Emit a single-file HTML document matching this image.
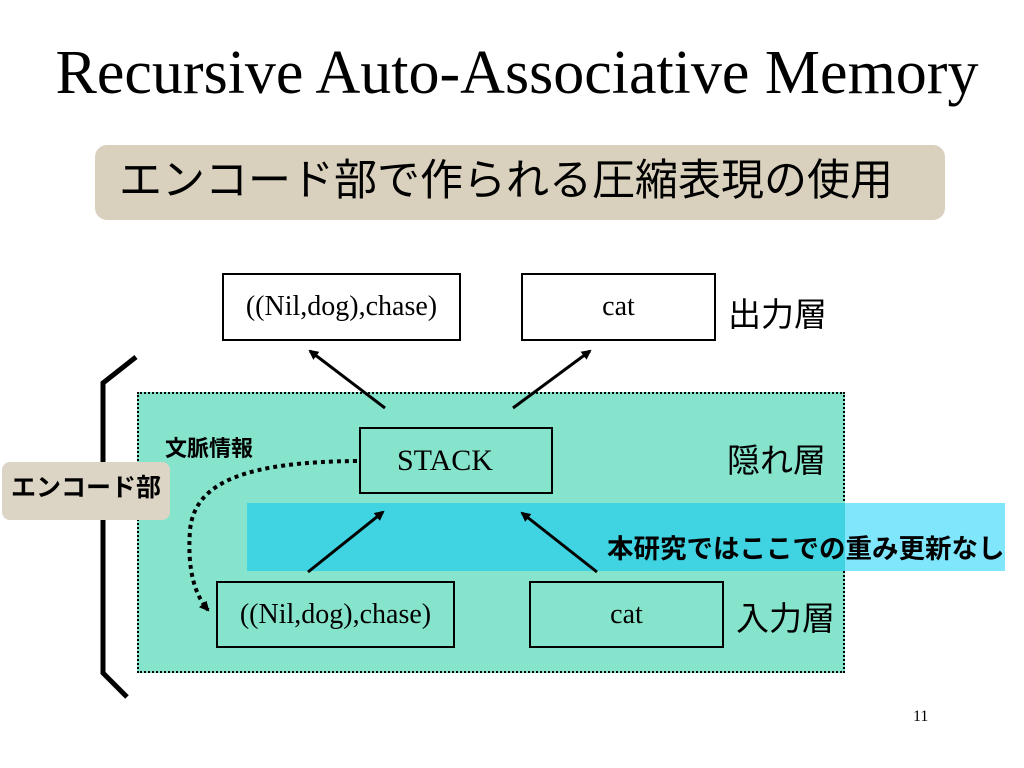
<!DOCTYPE html>
<html><head><meta charset="utf-8"><style>
body{margin:0;width:1024px;height:768px;background:#fff;position:relative;overflow:hidden;font-family:"Liberation Serif","Noto Sans CJK JP",serif}
.a{position:absolute;white-space:nowrap}
.box{position:absolute;border:2px solid #000;box-sizing:border-box;display:flex;align-items:center;justify-content:center;font-size:28px;font-family:"Liberation Serif",serif}
.jp{font-family:"Liberation Sans","Noto Sans CJK JP",sans-serif}
</style></head><body>
<div class="a" style="left:0;top:38px;width:1034px;text-align:center;font-size:62px">Recursive Auto-Associative Memory</div>
<div class="a jp" style="left:95px;top:145px;width:850px;height:75px;border-radius:12px;background:#d9d1bd;font-size:43px;line-height:72px;padding-left:24px;box-sizing:border-box">エンコード部で作られる圧縮表現の使用</div>
<div class="a" style="left:137px;top:392px;width:708px;height:281px;background:#86e3cc;border:2px dotted #000;box-sizing:border-box"></div>
<div class="a" style="left:247px;top:503px;width:598px;height:68px;background:#40d4e2"></div>
<div class="a" style="left:845px;top:503px;width:160px;height:68px;background:#7fe6fb"></div>
<div class="box" style="left:222px;top:273px;width:239px;height:68px">((Nil,dog),chase)</div>
<div class="box" style="left:521px;top:273px;width:195px;height:68px">cat</div>
<div class="box" style="left:359px;top:427px;width:194px;height:67px;justify-content:flex-start;padding-left:36px;font-size:30px">STACK</div>
<div class="box" style="left:216px;top:581px;width:239px;height:67px">((Nil,dog),chase)</div>
<div class="box" style="left:529px;top:581px;width:195px;height:67px">cat</div>
<div class="a jp" style="left:728px;top:288px;font-size:33px">出力層</div>
<div class="a jp" style="left:727px;top:434px;font-size:33px">隠れ層</div>
<div class="a jp" style="left:736px;top:592px;font-size:33px">入力層</div>
<div class="a jp" style="left:165px;top:431px;font-size:22px;font-weight:bold">文脈情報</div>
<div class="a jp" style="left:607px;top:527px;font-size:26.5px;font-weight:bold">本研究ではここでの重み更新なし</div>
<svg class="a" style="left:0;top:0" width="1024" height="768">
<defs><marker id="m" markerWidth="10" markerHeight="10" refX="8" refY="5" orient="auto" markerUnits="userSpaceOnUse"><path d="M0,0 L10,5 L0,10z"/></marker></defs>
<g stroke="#000" stroke-width="3" fill="none">
<path d="M136,357 L103,383 L103,673 L127,697" stroke-width="5"/>
<line x1="385" y1="408" x2="310" y2="351" marker-end="url(#m)"/>
<line x1="513" y1="408" x2="590" y2="351" marker-end="url(#m)"/>
<line x1="308" y1="572" x2="383" y2="512" marker-end="url(#m)"/>
<line x1="597" y1="572" x2="522" y2="513" marker-end="url(#m)"/>
<path d="M357,461 C250,462 195,480 190,530 C187,570 195,595 208,610" stroke-width="4" stroke-dasharray="4,4" marker-end="url(#m)"/>
</g></svg>
<div class="a jp" style="left:2px;top:462px;width:168px;height:58px;border-radius:8px;background:#dcd4c4;font-size:25px;font-weight:bold;line-height:52px;text-align:center">エンコード部</div>
<div class="a" style="left:913px;top:708px;font-size:16px">11</div>
</body></html>
